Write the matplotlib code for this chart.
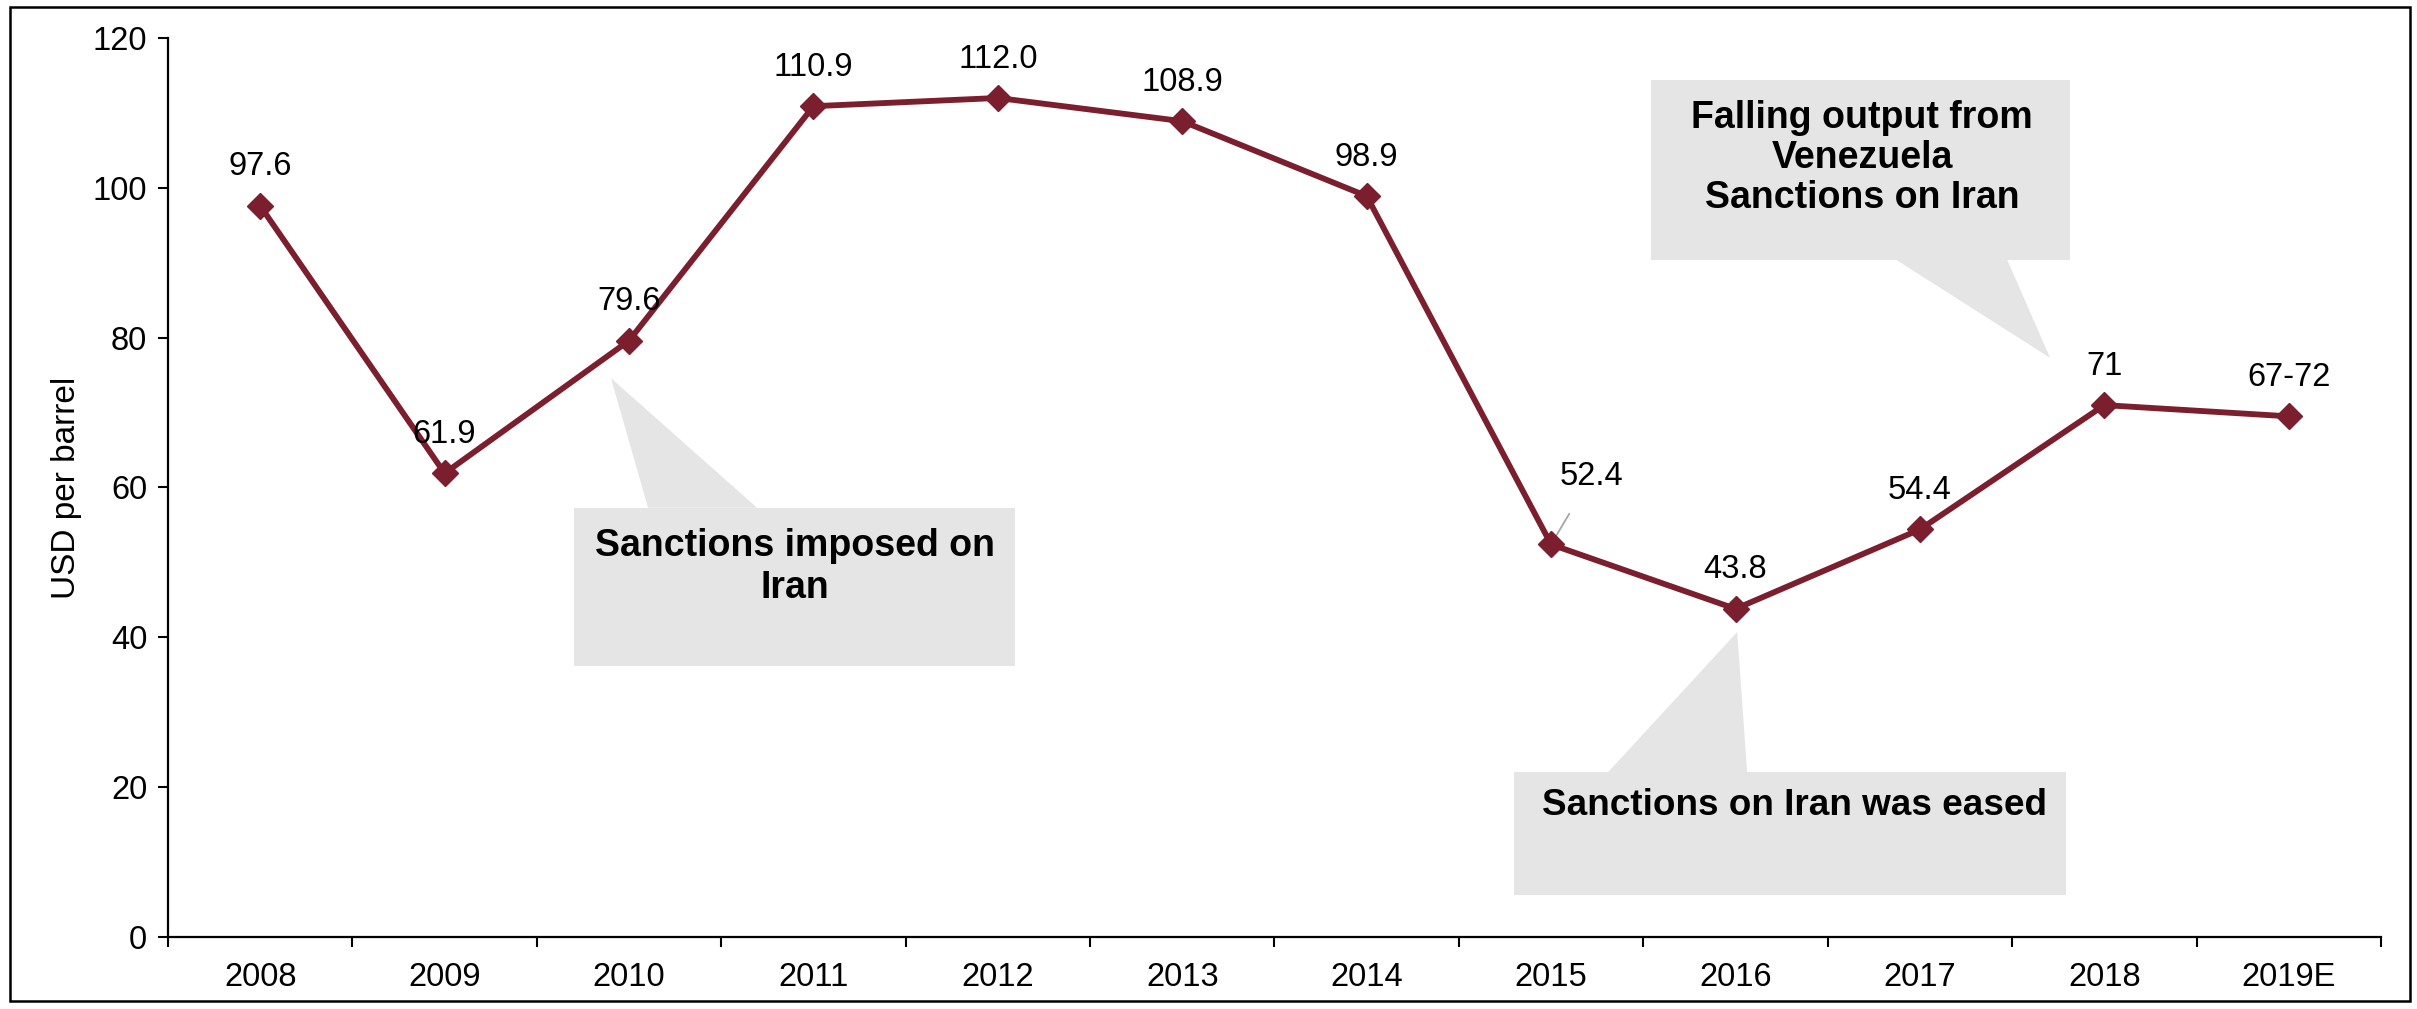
import matplotlib
matplotlib.use("Agg")
import matplotlib.pyplot as plt
from matplotlib.patches import Polygon, Rectangle

years = ["2008", "2009", "2010", "2011", "2012", "2013", "2014", "2015", "2016", "2017", "2018", "2019E"]
price = [97.6, 61.9, 79.6, 110.9, 112.0, 108.9, 98.9, 52.4, 43.8, 54.4, 71.0, 69.5]
labels = ["97.6", "61.9", "79.6", "110.9", "112.0", "108.9", "98.9", "52.4", "43.8", "54.4", "71", "67-72"]

plt.rcParams['font.family'] = ['Liberation Sans', 'DejaVu Sans']
line_col = '#7b1f2e'
box_col = '#e5e5e5'

fig = plt.figure(figsize=(24.17, 10.09), dpi=100)
ax = fig.add_axes([0.0695, 0.0714, 0.9156, 0.8909])

x = list(range(len(years)))
ax.plot(x, price, color=line_col, lw=4.2, marker='D', markersize=13, zorder=5)

# data labels above the points (2015 label sits off to the side with a leader line)
for i, (v, t) in enumerate(zip(price, labels)):
    if t == "52.4":
        ax.annotate(t, xy=(i, v), xytext=(29, 49), textcoords='offset points',
                    ha='center', va='center', fontsize=23.5,
                    arrowprops=dict(arrowstyle='-', color='#a6a6a6', lw=1.3,
                                    shrinkA=16, shrinkB=1))
    else:
        ax.annotate(t, xy=(i, v), xytext=(0, 28), textcoords='offset points',
                    ha='center', va='center', fontsize=23.5, zorder=6)

# callouts
def callout(x0, x1, y0, y1, b0, b1, tip, base_top=True):
    yb = y1 if base_top else y0
    ax.add_patch(Rectangle((x0, y0), x1 - x0, y1 - y0, facecolor=box_col, edgecolor='none', zorder=1))
    ax.add_patch(Polygon([(b0, yb), tip, (b1, yb)], closed=True, facecolor=box_col, edgecolor='none', zorder=1))

callout(1.702, 4.093, 36.2, 57.3, 2.103, 2.694, (1.902, 74.6))
ax.text(2.898, 49.4, "Sanctions imposed on\nIran", ha='center', va='center',
        fontsize=27, fontweight='bold', linespacing=1.2, zorder=2)

callout(6.799, 9.793, 5.6, 22.0, 7.309, 8.063, (8.009, 40.7))
ax.text(8.318, 17.6, "Sanctions on Iran was eased", ha='center', va='center',
        fontsize=26.6, fontweight='bold', zorder=2)

callout(7.542, 9.815, 90.4, 114.4, 8.871, 9.473, (9.706, 77.3), base_top=False)
ax.text(8.687, 104.0, "Falling output from\nVenezuela\nSanctions on Iran", ha='center', va='center',
        fontsize=27, fontweight='bold', linespacing=1.15, zorder=2)

ax.set_xlim(-0.5, len(years) - 0.5)
ax.set_ylim(0, 120)
ax.set_yticks(range(0, 121, 20))
ax.set_xticks(x)
ax.set_xticklabels(years)
ax.set_xticks([i - 0.5 for i in range(len(years) + 1)], minor=True)
ax.tick_params(axis='x', which='major', length=0, labelsize=23.5, pad=18)
ax.tick_params(axis='x', which='minor', length=7, width=1.5, direction='out')
ax.tick_params(axis='y', length=7, width=1.5, direction='out', labelsize=23.5, pad=8)
ax.set_ylabel("USD per barrel", fontsize=24, labelpad=8)

for s in ['top', 'right']:
    ax.spines[s].set_visible(False)
for s in ['left', 'bottom']:
    ax.spines[s].set_linewidth(1.6)

# outer frame
fig.add_artist(Rectangle((0.0041, 0.0079), 0.993, 0.9852, transform=fig.transFigure,
                         fill=False, edgecolor='black', lw=1.8))

fig.savefig("out.png", dpi=100)
